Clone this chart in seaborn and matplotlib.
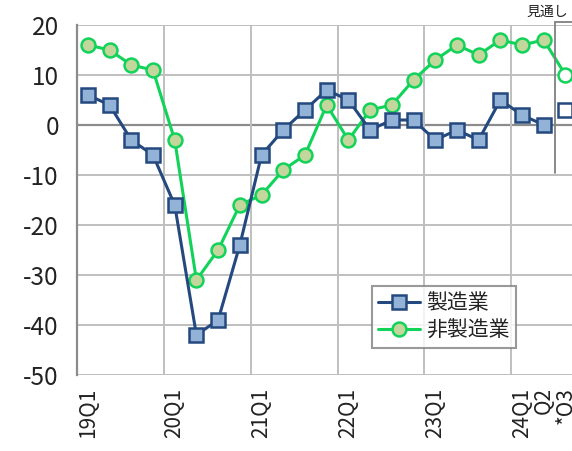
import matplotlib
matplotlib.use('Agg')
import matplotlib.pyplot as plt
import seaborn as sns
import pandas as pd
from matplotlib.lines import Line2D

quarters = ['19Q1', '19Q2', '19Q3', '19Q4', '20Q1', '20Q2', '20Q3', '20Q4',
            '21Q1', '21Q2', '21Q3', '21Q4', '22Q1', '22Q2', '22Q3', '22Q4',
            '23Q1', '23Q2', '23Q3', '23Q4', '24Q1', '24Q2', '*24Q3']
manufacturing = [6, 4, -3, -6, -16, -42, -39, -24, -6, -1, 3, 7, 5, -1, 1, 1,
                 -3, -1, -3, 5, 2, 0]
manufacturing_forecast = 3
non_manufacturing = [16, 15, 12, 11, -3, -31, -25, -16, -14, -9, -6, 4, -3, 3, 4, 9,
                     13, 16, 14, 17, 16, 17]
non_manufacturing_forecast = 10
tick_labels = ['19Q1', '', '', '', '20Q1', '', '', '', '21Q1', '', '', '', '22Q1', '', '', '',
               '23Q1', '', '', '', '24Q1', 'Q2', '*Q3']
series_names = ['製造業', '非製造業']

sns.set_theme(style='white')
plt.rcParams['font.family'] = ['Noto Sans CJK JP', 'DejaVu Sans']

blue_line = '#24497E'
blue_fill = '#93B2D8'
green_line = '#12D35A'
green_fill = '#C3D69B'
grid_c = '#BFBFBF'

fig = plt.figure(figsize=(5.72, 4.51), dpi=100)
ax = fig.add_axes([77 / 572, 1 - 375 / 451, 1 - 77 / 572, 350 / 451])

n = len(manufacturing)
df_m = pd.DataFrame({'x': range(n), 'y': manufacturing})
df_n_all = pd.DataFrame({'x': range(n + 1), 'y': non_manufacturing + [non_manufacturing_forecast]})
df_n = pd.DataFrame({'x': range(n), 'y': non_manufacturing})

# grid
for v in range(-50, 21, 10):
    ax.axhline(v, color='#8C8C8C' if v == 0 else grid_c, lw=1.6 if v == 0 else 1.4, zorder=0)
for xv in [3.5, 7.5, 11.5, 15.5, 19.5]:
    ax.axvline(xv, color=grid_c, lw=1.4, zorder=0)

# non-manufacturing line including forecast segment
sns.lineplot(data=df_n_all, x='x', y='y', ax=ax, color=green_line, lw=2.2, zorder=2)
sns.lineplot(data=df_n, x='x', y='y', ax=ax, color=green_line, lw=0, marker='o',
             markersize=10, markerfacecolor=green_fill, markeredgecolor=green_line,
             markeredgewidth=1.8, zorder=3)
ax.plot([n], [non_manufacturing_forecast], marker='o', ms=10, mfc='white',
        mec=green_line, mew=1.8, ls='none', zorder=3, clip_on=False)

sns.lineplot(data=df_m, x='x', y='y', ax=ax, color=blue_line, lw=2.2, marker='s',
             markersize=10, markerfacecolor=blue_fill, markeredgecolor=blue_line,
             markeredgewidth=1.8, zorder=4)
ax.plot([n], [manufacturing_forecast], marker='s', ms=10, mfc='white',
        mec=blue_line, mew=1.8, ls='none', zorder=4, clip_on=False)

# forecast separator
ax.plot([21.5, 21.5], [20.6, -9.6], color='#808080', lw=1.3, clip_on=False, zorder=5)
ax.plot([21.5, 23.5], [20.6, 20.6], color='#808080', lw=1.3, clip_on=False, zorder=5)
ax.text(20.2, 22.6, '見通し', fontsize=10, ha='left', va='center', color='#222222',
        clip_on=False)

ax.set_xlim(-0.5, 22.3)
ax.set_ylim(-50, 20)
ax.set_yticks(range(-50, 21, 10))
ax.set_yticklabels([str(v) for v in range(-50, 21, 10)], fontsize=17.5, color='#222222')
ax.set_xticks(range(n + 1))
ax.set_xticklabels(tick_labels, rotation=90, fontsize=15, color='#222222')
ax.tick_params(axis='y', length=0, pad=13)
ax.tick_params(axis='x', length=0, pad=9)
ax.set_xlabel('')
ax.set_ylabel('')
for s in ['top', 'right', 'bottom']:
    ax.spines[s].set_visible(False)
ax.spines['left'].set_color('#8C8C8C')
ax.spines['left'].set_linewidth(1.6)
ax.grid(False)

handles = [
    Line2D([], [], color=blue_line, lw=2.2, marker='s', ms=10, mfc=blue_fill,
           mec=blue_line, mew=1.8),
    Line2D([], [], color=green_line, lw=2.2, marker='o', ms=10, mfc=green_fill,
           mec=green_line, mew=1.8),
]
leg = fig.legend(handles, series_names, loc='upper left',
                 bbox_to_anchor=(372 / 572, 1 - 286 / 451), fontsize=15,
                 frameon=True, fancybox=False, edgecolor='#808080',
                 handlelength=2.0, handletextpad=0.3, borderpad=0.3,
                 labelspacing=0.25, borderaxespad=0)
leg.get_frame().set_linewidth(1.5)
for t in leg.get_texts():
    t.set_color('#222222')

fig.savefig('out.png', dpi=100)
